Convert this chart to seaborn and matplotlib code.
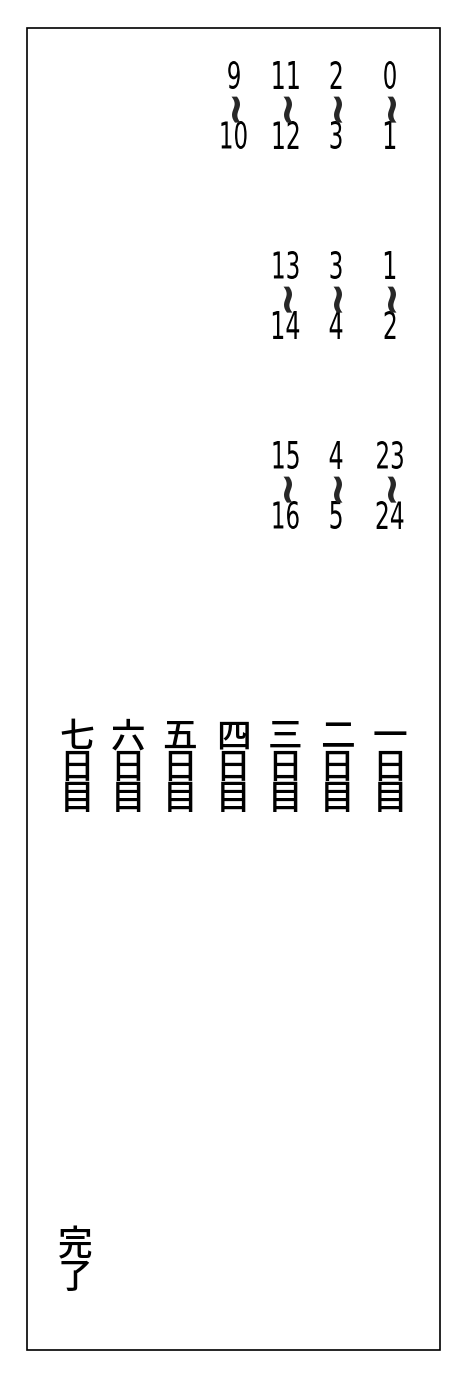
import matplotlib
matplotlib.use("Agg")
import matplotlib.pyplot as plt
import seaborn as sns
from matplotlib.patches import Rectangle, PathPatch
from matplotlib.textpath import TextPath
from matplotlib.font_manager import FontProperties
from matplotlib.transforms import Affine2D

sns.set_style("white")

# time ranges per column (right to left), each row: (start, end)
col_1 = [("0", "1"), ("1", "2"), ("23", "24")]
col_2 = [("2", "3"), ("3", "4"), ("4", "5")]
col_3 = [("11", "12"), ("13", "14"), ("15", "16")]
col_4 = [("9", "10")]
columns = [col_1, col_2, col_3, col_4]
col_x = [390, 336, 286, 234]
row_y = [75, 265, 455]

days = ["一", "二", "三", "四", "五", "六", "七"]
day_x = [390, 337, 285, 233, 180, 128, 77]
end_label = "完了"

fig = plt.figure(figsize=(4.63, 13.74), dpi=100)
ax = fig.add_axes([0, 0, 1, 1])
ax.set_xlim(0, 463)
ax.set_ylim(1374, 0)
ax.axis("off")

ax.add_patch(Rectangle((27, 28), 413, 1322, fill=False, lw=1.2, ec="black"))

prop = FontProperties(family="DejaVu Sans")


def narrow_text(x, y, s, h=28, sx=0.62):
    tp = TextPath((0, 0), s, size=38, prop=prop)
    bb = tp.get_extents()
    k = h / bb.height
    tr = (Affine2D().translate(-(bb.x0 + bb.x1) / 2, -(bb.y0 + bb.y1) / 2)
          .scale(k * sx, -k).translate(x, y))
    ax.add_patch(PathPatch(tr.transform_path(tp), fc="black", lw=0))


for x, col in zip(col_x, columns):
    for y, (a, b) in zip(row_y, col):
        narrow_text(x, y, a)
        narrow_text(x, y + 31, "~", h=22, sx=0.8) if False else None
        ax.text(x, y + 30, "~", rotation=90, fontsize=30, ha="center", va="center",
                family="DejaVu Sans", fontweight="bold")
        narrow_text(x, y + 60, b)

cjk = dict(family=["Noto Sans CJK JP", "DejaVu Sans"], fontsize=25,
           ha="center", va="center", color="black", fontweight="medium")
for x, d in zip(day_x, days):
    for i, ch in enumerate([d, "日", "目"]):
        ax.text(x, 737 + i * 31, ch, **cjk)

for i, ch in enumerate(end_label):
    ax.text(75, 1245 + i * 33, ch, **cjk)

fig.savefig("out.png", dpi=100)
